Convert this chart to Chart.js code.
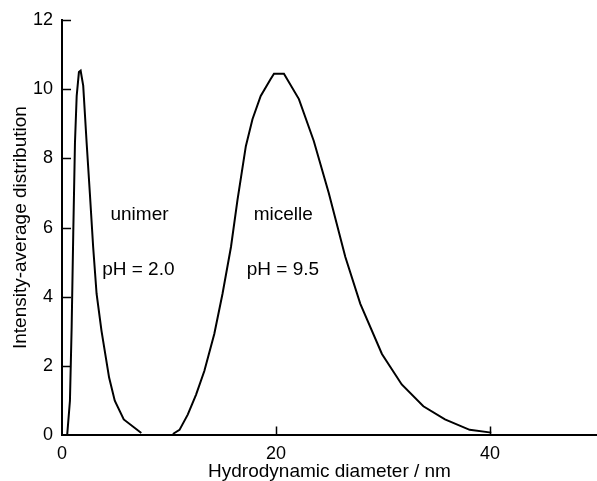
<!DOCTYPE html>
<html lang="en">
<head>
  <meta charset="UTF-8">
  <title>Hydrodynamic diameter distribution</title>
  <script src="https://cdn.jsdelivr.net/npm/chart.js"></script>
  <style>
    html, body { margin: 0; padding: 0; background: #fff; }
    .container { width: 597px; height: 481px; }
  </style>
</head>
<body>
  <div class="container">
    <canvas id="grafico"></canvas>
  </div>

<script>
  // unimer, pH = 2.0
  var unimerX = [0.49, 0.74, 0.9, 1.05, 1.21, 1.37, 1.58, 1.74, 1.98, 2.3, 2.6, 2.91, 3.23, 3.69, 4.4, 4.93, 5.77, 7.41];
  var unimerY = [0.04, 1.0, 3.12, 5.83, 8.45, 9.8, 10.49, 10.53, 10.1, 8.45, 7.0, 5.44, 4.09, 3.02, 1.67, 1.0, 0.46, 0.07];

  // micelle, pH = 9.5
  var micelleX = [10.36, 10.98, 11.75, 12.53, 13.3, 14.23, 15.0, 15.79, 16.4, 17.18, 17.8, 18.57, 19.5, 19.81, 20.74, 22.14, 23.53, 24.93, 26.48, 27.88, 29.9, 31.75, 33.77, 35.79, 38.1, 40.12];
  var micelleY = [0.04, 0.16, 0.6, 1.18, 1.86, 2.93, 4.09, 5.44, 6.8, 8.35, 9.13, 9.8, 10.29, 10.44, 10.44, 9.71, 8.5, 7.0, 5.15, 3.8, 2.35, 1.47, 0.84, 0.46, 0.16, 0.08];

  var xTicks = [0, 20, 40];
  var yTicks = [0, 2, 4, 6, 8, 10, 12];

  var rotulos = ['unimer', 'pH = 2.0', 'micelle', 'pH = 9.5'];
  var rotulosX = [7.24, 7.13, 20.68, 20.65];
  var rotulosY = [6.22, 4.62, 6.22, 4.62];

  var fonte = '"Liberation Sans", Arial, sans-serif';

  function pontos(xs, ys) {
    let lista = [];
    for (let i = 0; i < xs.length; i++) {
      lista.push({ x: xs[i], y: ys[i] });
    }
    return lista;
  }

  // ticks pointing into the plot, plus the text labels
  const extras = {
    id: 'extras',
    afterDraw(chart) {
      const ctx = chart.ctx;
      const sx = chart.scales.x;
      const sy = chart.scales.y;
      const area = chart.chartArea;
      ctx.save();
      ctx.strokeStyle = '#000';
      ctx.lineWidth = 1.5;
      ctx.beginPath();
      xTicks.forEach(function (v) {
        if (v === 0) return;
        const px = Math.round(sx.getPixelForValue(v)) + 0.5;
        ctx.moveTo(px, area.bottom);
        ctx.lineTo(px, area.bottom - 9);
      });
      yTicks.forEach(function (v) {
        if (v === 0) return;
        const py = Math.round(sy.getPixelForValue(v)) + 0.5;
        ctx.moveTo(area.left, py);
        ctx.lineTo(area.left + 9, py);
      });
      ctx.stroke();

      ctx.fillStyle = '#000';
      ctx.font = '19px ' + fonte;
      ctx.textAlign = 'center';
      ctx.textBaseline = 'alphabetic';
      for (let i = 0; i < rotulos.length; i++) {
        ctx.fillText(rotulos[i], sx.getPixelForValue(rotulosX[i]), sy.getPixelForValue(rotulosY[i]));
      }
      ctx.restore();
    }
  };

  const config = {
    type: 'line',
    data: {
      datasets: [{
        label: 'unimer',
        data: pontos(unimerX, unimerY),
        borderColor: '#000',
        borderWidth: 2,
        pointRadius: 0,
        tension: 0,
        fill: false
      }, {
        label: 'micelle',
        data: pontos(micelleX, micelleY),
        borderColor: '#000',
        borderWidth: 2,
        pointRadius: 0,
        tension: 0,
        fill: false
      }]
    },
    options: {
      responsive: true,
      maintainAspectRatio: false,
      animation: false,
      layout: {
        padding: { top: 15, right: 0, bottom: 0, left: 0 }
      },
      plugins: {
        legend: { display: false },
        tooltip: { enabled: false }
      },
      scales: {
        x: {
          type: 'linear',
          min: 0,
          max: 50,
          afterBuildTicks: function (scale) {
            scale.ticks = xTicks.map(function (v) { return { value: v }; });
          },
          grid: { display: false, drawTicks: false, tickLength: 0 },
          border: { display: true, color: '#000', width: 2 },
          ticks: {
            color: '#000',
            padding: 8,
            maxRotation: 0,
            font: { family: fonte, size: 18 }
          },
          title: {
            display: true,
            text: 'Hydrodynamic diameter / nm',
            color: '#000',
            padding: { top: -11, bottom: 0 },
            font: { family: fonte, size: 19, lineHeight: 1 }
          }
        },
        y: {
          type: 'linear',
          min: 0,
          max: 12,
          afterBuildTicks: function (scale) {
            scale.ticks = yTicks.map(function (v) { return { value: v }; });
          },
          grid: { display: false, drawTicks: false, tickLength: 0 },
          border: { display: true, color: '#000', width: 2 },
          ticks: {
            color: '#000',
            padding: 9,
            font: { family: fonte, size: 18 }
          },
          title: {
            display: true,
            text: 'Intensity-average distribution',
            color: '#000',
            padding: { top: 11, bottom: -6 },
            font: { family: fonte, size: 19, lineHeight: 1 }
          }
        }
      }
    },
    plugins: [extras]
  };

  let myChart = new Chart(document.getElementById('grafico'), config);
</script>
</body>
</html>
